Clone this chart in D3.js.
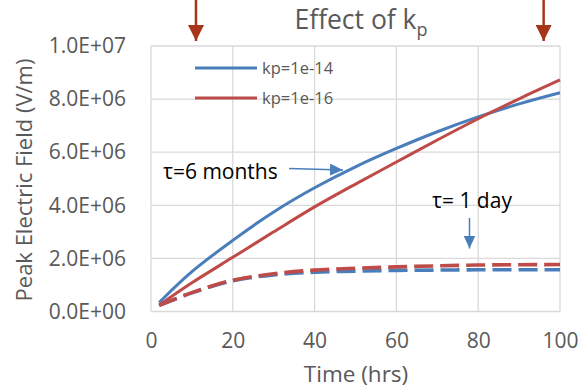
<!DOCTYPE html>
<html>
<head>
<meta charset="utf-8">
<script src="https://cdn.jsdelivr.net/npm/d3@7"></script>
<style>
  html, body { margin: 0; padding: 0; background: #fff; }
  svg { display: block; font-family: "Open Sans", sans-serif; }
</style>
</head>
<body>
<svg id="chart" width="580" height="388"></svg>
<script>
// Time axis (hours)
const time = [2, 10, 20, 30, 40, 50, 60, 70, 80, 90, 100];

// Peak electric field (V/m), tau = 6 months
const kp14_6mo = [0.34e6, 1.50e6, 2.68e6, 3.75e6, 4.66e6, 5.45e6, 6.14e6, 6.77e6, 7.33e6, 7.82e6, 8.24e6];
const kp16_6mo = [0.24e6, 1.08e6, 2.04e6, 3.00e6, 3.94e6, 4.80e6, 5.63e6, 6.46e6, 7.26e6, 8.01e6, 8.72e6];

// Peak electric field (V/m), tau = 1 day
const kp14_1d = [0.23e6, 0.70e6, 1.16e6, 1.38e6, 1.48e6, 1.52e6, 1.55e6, 1.56e6, 1.57e6, 1.57e6, 1.57e6];
const kp16_1d = [0.23e6, 0.71e6, 1.18e6, 1.42e6, 1.56e6, 1.63e6, 1.68e6, 1.72e6, 1.75e6, 1.76e6, 1.77e6];

const xTicks = [0, 20, 40, 60, 80, 100];
const yTicks = [0, 2e6, 4e6, 6e6, 8e6, 1e7];
const legendLabels = ["kp=1e-14", "kp=1e-16"];

const BLUE = "#4a7ebb";
const RED = "#be4b48";
const GRID = "#d9d9d9";
const TEXT = "#595959";

const svg = d3.select("#chart");
const plot = { left: 151, right: 560, top: 46, bottom: 311.5 };

const x = d3.scaleLinear().domain([0, 100]).range([plot.left, plot.right]);
const y = d3.scaleLinear().domain([0, 1e7]).range([plot.bottom, plot.top]);

// gridlines
svg.append("g").selectAll("line.h").data(yTicks).join("line")
  .attr("x1", plot.left).attr("x2", plot.right)
  .attr("y1", d => y(d)).attr("y2", d => y(d))
  .attr("stroke", GRID).attr("stroke-width", 1.3);
svg.append("g").selectAll("line.v").data(xTicks).join("line")
  .attr("y1", plot.top).attr("y2", plot.bottom)
  .attr("x1", d => x(d)).attr("x2", d => x(d))
  .attr("stroke", GRID).attr("stroke-width", 1.3);

// axes (labels only)
const fmtE = d => {
  const s = d3.format(".1e")(d).toUpperCase();
  return s.replace(/E([+-])(\d)$/, "E$10$2");
};
const yAxis = svg.append("g")
  .attr("transform", `translate(${plot.left},0)`)
  .call(d3.axisLeft(y).tickValues(yTicks).tickFormat(fmtE).tickSize(0).tickPadding(25));
yAxis.select(".domain").remove();
yAxis.selectAll("text").attr("fill", TEXT).style("font-size", "21px").style("font-family", "'Open Sans', sans-serif");

const xAxis = svg.append("g")
  .attr("transform", `translate(0,${plot.bottom})`)
  .call(d3.axisBottom(x).tickValues(xTicks).tickFormat(d3.format("d")).tickSize(0).tickPadding(22));
xAxis.select(".domain").remove();
xAxis.selectAll("text").attr("fill", TEXT).style("font-size", "21px").style("font-family", "'Open Sans', sans-serif");

// series
const line = vals => d3.line()
  .x((d, i) => x(time[i]))
  .y(d => y(d))
  .curve(d3.curveCatmullRom.alpha(0.5))(vals);

const series = [
  { v: kp14_6mo, c: BLUE, dash: null },
  { v: kp16_6mo, c: RED, dash: null },
  { v: kp14_1d, c: BLUE, dash: "19,7" },
  { v: kp16_1d, c: RED, dash: "19,7" }
];
svg.append("g").selectAll("path").data(series).join("path")
  .attr("d", d => line(d.v))
  .attr("fill", "none")
  .attr("stroke", d => d.c)
  .attr("stroke-width", d => d.dash ? 3.6 : 3)
  .attr("stroke-dasharray", d => d.dash);

// legend
const legend = svg.append("g");
legendLabels.forEach((lab, i) => {
  const ly = 68 + i * 30;
  legend.append("line").attr("x1", 195).attr("x2", 257).attr("y1", ly).attr("y2", ly)
    .attr("stroke", i === 0 ? BLUE : RED).attr("stroke-width", 3);
  legend.append("text").attr("x", 262).attr("y", ly).attr("dy", "0.35em")
    .attr("fill", TEXT).style("font-size", "16.5px").text(lab);
});

// title
const title = svg.append("text").attr("x", 361).attr("y", 29)
  .attr("text-anchor", "middle").attr("fill", TEXT).style("font-size", "26.5px");
title.append("tspan").text("Effect of k");
title.append("tspan").attr("dy", 7).style("font-size", "18px").text("p");

// axis titles
svg.append("text").attr("x", 356).attr("y", 382)
  .attr("text-anchor", "middle").attr("fill", TEXT).style("font-size", "22.5px")
  .text("Time (hrs)");
svg.append("text")
  .attr("transform", "translate(32,180) rotate(-90)")
  .attr("text-anchor", "middle").attr("fill", TEXT).style("font-size", "22px")
  .text("Peak Electric Field (V/m)");

// arrowhead markers
const defs = svg.append("defs");
function marker(id, color, w, h) {
  defs.append("marker").attr("id", id)
    .attr("viewBox", `0 0 ${h} ${w}`).attr("refX", h).attr("refY", w / 2)
    .attr("markerWidth", h).attr("markerHeight", w)
    .attr("markerUnits", "userSpaceOnUse").attr("orient", "auto")
    .append("path").attr("d", `M0,0 L${h},${w / 2} L0,${w} Z`).attr("fill", color);
}
marker("headRed", "#a6351a", 16, 16);
marker("headBlue", BLUE, 12, 13);

// time markers at the top
[11, 96].forEach(t => {
  svg.append("line").attr("x1", x(t)).attr("x2", x(t)).attr("y1", 0).attr("y2", 41)
    .attr("stroke", "#a6351a").attr("stroke-width", 2.5).attr("marker-end", "url(#headRed)");
});

// annotations
svg.append("text").attr("x", 163).attr("y", 179).attr("fill", "#000")
  .style("font-size", "21px").text("τ=6 months");
svg.append("line").attr("x1", 289).attr("y1", 168.5).attr("x2", 343).attr("y2", 170)
  .attr("stroke", BLUE).attr("stroke-width", 1.5).attr("marker-end", "url(#headBlue)");

svg.append("text").attr("x", 432).attr("y", 208).attr("fill", "#000")
  .style("font-size", "21px").text("τ= 1 day");
svg.append("line").attr("x1", 469.5).attr("y1", 218).attr("x2", 469.5).attr("y2", 248.5)
  .attr("stroke", BLUE).attr("stroke-width", 1.5).attr("marker-end", "url(#headBlue)");
</script>
</body>
</html>
